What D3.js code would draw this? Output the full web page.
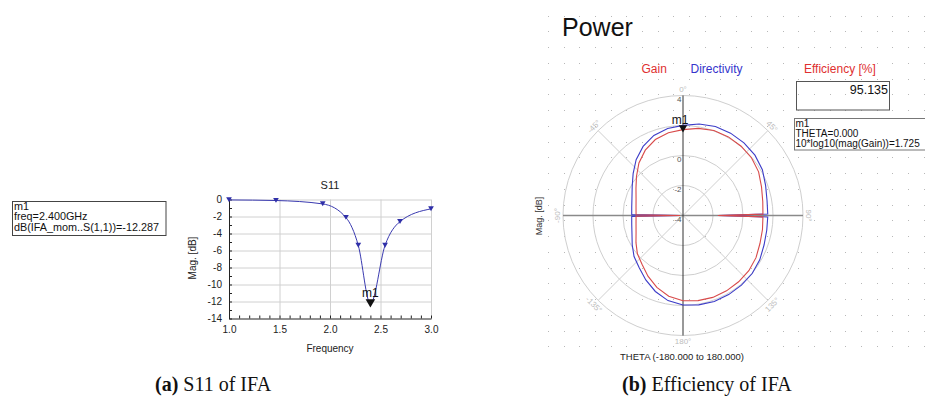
<!DOCTYPE html>
<html>
<head>
<meta charset="utf-8">
<script src="https://cdn.jsdelivr.net/npm/d3@7"></script>
<style>
    body { margin: 0; background: #fff; }
    text { font-family: "Liberation Sans", Arial, sans-serif; }
    .caption { font-family: "Liberation Serif", "Times New Roman", serif; }
</style>
</head>
<body>
<svg id="chart" width="925" height="407"></svg>
<script>

/* (a) S11 sweep, sample points shown as markers */
var S11_FREQ = [1.0, 1.465, 1.928, 2.158, 2.28, 2.4, 2.545, 2.693, 3.0];
var S11_DB = [-0.05, -0.12, -0.52, -2.12, -5.4, -12.287, -5.4, -2.6, -1.1];
var S11_Y_TICKS = [0, -2, -4, -6, -8, -10, -12, -14];
var S11_X_TICKS = [1.0, 1.5, 2.0, 2.5, 3.0];
var S11_MARKER = {freq: 2.4, db: -12.287};
var S11_MARKER_LINES = ["m1", "freq=2.400GHz", "dB(IFA_mom..S(1,1))=-12.287"];

/* (b) far field cut, theta in degrees, values in dB */
var THETA = [-180, -170, -160, -150, -140, -130, -120, -110, -100, -91, -90, -89,
    -80, -70, -60, -50, -40, -30, -20, -10, 0, 10, 20, 30, 40, 50, 60, 70, 80,
    89, 90, 91, 100, 110, 120, 130, 140, 150, 160, 170, 180];
var GAIN_DB = [1.68, 1.47, 1.10, 0.67, 0.25, -0.03, -0.38, -0.67, -0.82, -0.87, -3.80, -0.87,
    -0.82, -0.67, -0.38, 0.05, 0.57, 1.03, 1.39, 1.60, 1.725, 1.90, 2.03, 2.05, 2.03, 1.97, 1.82, 1.57, 1.40,
    1.33, -1.67, 1.33, 1.38, 1.46, 1.62, 1.73, 1.77, 1.80, 1.81, 1.76, 1.68];
var DIRECTIVITY_DB = [1.97, 1.76, 1.39, 0.96, 0.54, 0.26, -0.09, -0.38, -0.53, -0.58, -3.80, -0.58,
    -0.53, -0.38, -0.09, 0.34, 0.86, 1.32, 1.68, 1.89, 2.01, 2.19, 2.32, 2.34, 2.32, 2.26, 2.11, 1.86, 1.69,
    1.65, -1.67, 1.65, 1.67, 1.75, 1.91, 2.02, 2.06, 2.09, 2.10, 2.05, 1.97];
var RING_VALUES = [-2, 0, 2, 4];
var RADIAL_LABELS = [4, 0, -2, -4];   /* "2" sits under the m1 marker */
var ANGLE_LABELS = [0, 45, 90, 135, 180, -135, -90, -45];
var EFFICIENCY = "95.135";
var POLAR_MARKER = {theta: 0, db: 1.725};
var POLAR_MARKER_LINES = ["m1", "THETA=0.000", "10*log10(mag(Gain))=1.725"];

var RED = "#e03030";
var BLUE = "#3535cc";

var svg = d3.select("#chart");

drawS11();
drawPolar();
drawCaptions();

function drawS11(){
    var x = d3.scaleLinear().domain([1, 3]).range([229, 431]);
    var y = d3.scaleLinear().domain([-14, 0]).range([318.5, 199.5]);
    var plotH = 318.5 - 199.5;
    var plotW = 431 - 229;

    /* grid */
    svg.append("g")
        .attr("transform", "translate(0,318.5)")
        .call(d3.axisBottom(x).tickValues(S11_X_TICKS.slice(1)).tickSize(-plotH).tickFormat(""))
        .call(function(g){ g.select(".domain").remove(); })
        .selectAll("line").attr("stroke", "#d0d0d0");
    svg.append("g")
        .attr("transform", "translate(229,0)")
        .call(d3.axisLeft(y).tickValues(S11_Y_TICKS.slice(0, -1)).tickSize(-plotW).tickFormat(""))
        .call(function(g){ g.select(".domain").remove(); })
        .selectAll("line").attr("stroke", "#d0d0d0");

    /* axes with inward minor ticks */
    var left = svg.append("g")
        .attr("transform", "translate(229,0)")
        .call(d3.axisLeft(y).tickValues(d3.range(-14, 1, 1)).tickSize(-3).tickSizeOuter(0)
            .tickFormat(function(d){ return S11_Y_TICKS.indexOf(d) >= 0 ? d : ""; }).tickPadding(7));
    left.select(".domain").attr("stroke", "#222");
    left.selectAll("line").attr("stroke", "#222");
    left.selectAll("text").attr("font-size", 10).attr("fill", "#222")
        .attr("font-family", "Liberation Sans, Arial, sans-serif");

    var bottom = svg.append("g")
        .attr("transform", "translate(0,318.5)")
        .call(d3.axisBottom(x).tickValues(d3.range(10, 31, 1).map(function(v){ return v / 10; }))
            .tickSize(-3).tickSizeOuter(0).tickPadding(7)
            .tickFormat(function(d){ return (Math.round(d * 10) % 5 === 0) ? d3.format(".1f")(d) : ""; }));
    bottom.select(".domain").attr("stroke", "#222");
    bottom.selectAll("line").attr("stroke", "#222");
    bottom.selectAll("text").attr("font-size", 10).attr("fill", "#222")
        .attr("font-family", "Liberation Sans, Arial, sans-serif");

    /* curve */
    var pts = S11_FREQ.map(function(f, i){ return {f: f, v: S11_DB[i]}; });
    var line = d3.line()
        .curve(d3.curveMonotoneX)
        .x(function(d){ return x(d.f); })
        .y(function(d){ return y(d.v); });
    svg.append("path")
        .attr("d", line(pts))
        .attr("fill", "none")
        .attr("stroke", "#3a3ab0")
        .attr("stroke-width", 1);

    var tri = d3.symbol().type(d3.symbolTriangle).size(14);
    svg.selectAll(".s11pt").data(pts).enter()
        .append("path")
        .classed("s11pt", true)
        .attr("d", tri)
        .attr("transform", function(d){ return "translate(" + x(d.f) + "," + (y(d.v) - 1) + ") rotate(180)"; })
        .attr("fill", "#2f2fa8");

    /* marker m1 */
    var mx = x(S11_MARKER.freq), my = y(S11_MARKER.db);
    svg.append("path")
        .attr("d", d3.symbol().type(d3.symbolTriangle).size(40))
        .attr("transform", "translate(" + mx + "," + (my - 2) + ") rotate(180)")
        .attr("fill", "#111");
    svg.append("text")
        .attr("x", mx).attr("y", my - 7)
        .attr("text-anchor", "middle")
        .attr("font-size", 12).attr("fill", "#111")
        .text("m1");

    /* titles */
    svg.append("text").attr("x", 330).attr("y", 189).attr("text-anchor", "middle")
        .attr("font-size", 11).attr("fill", "#222").text("S11");
    svg.append("text").attr("x", 330).attr("y", 352).attr("text-anchor", "middle")
        .attr("font-size", 10).attr("fill", "#222").text("Frequency");
    svg.append("text").attr("transform", "translate(196,258) rotate(-90)")
        .attr("text-anchor", "middle")
        .attr("font-size", 10).attr("fill", "#222").text("Mag. [dB]");

    /* marker readout box */
    svg.append("rect")
        .attr("x", 12.5).attr("y", 201.5).attr("width", 153.5).attr("height", 34)
        .attr("fill", "#fff").attr("stroke", "#444");
    svg.append("g").selectAll("text").data(S11_MARKER_LINES).enter()
        .append("text")
        .attr("x", 14).attr("y", function(d, i){ return 210 + i * 10.3; })
        .attr("font-size", 10.8).attr("fill", "#111")
        .text(function(d){ return d; });
}

function drawPolar(){
    var cx = 683, cy = 215.5, R = 120;
    var r = d3.scaleLinear().domain([-4, 4]).range([0, R]);

    /* dotted page background */
    var dots = [];
    d3.range(548, 925, 15.65).forEach(function(dx){
        d3.range(15.7, 362, 15.75).forEach(function(dy){ dots.push([dx, dy]); });
    });
    svg.append("g").selectAll("rect").data(dots).enter()
        .append("rect")
        .attr("x", function(d){ return Math.round(d[0]); })
        .attr("y", function(d){ return Math.round(d[1]); })
        .attr("width", 1).attr("height", 1)
        .attr("fill", "#b8b8b8");

    svg.append("text").attr("x", 562).attr("y", 36)
        .attr("font-size", 25).attr("fill", "#111").text("Power");

    svg.append("text").attr("x", 641.5).attr("y", 73).attr("font-size", 12).attr("fill", RED).text("Gain");
    svg.append("text").attr("x", 690.5).attr("y", 73).attr("font-size", 12).attr("fill", BLUE).text("Directivity");
    svg.append("text").attr("x", 804).attr("y", 73).attr("font-size", 12).attr("fill", RED).text("Efficiency [%]");

    svg.append("rect")
        .attr("x", 796.5).attr("y", 81.5).attr("width", 93).attr("height", 28.5)
        .attr("fill", "none").attr("stroke", "#555");
    svg.append("text").attr("x", 888).attr("y", 94).attr("text-anchor", "end")
        .attr("font-size", 12.5).attr("fill", "#111").text(EFFICIENCY);

    var g = svg.append("g").attr("transform", "translate(" + cx + "," + cy + ")");

    /* rings and spokes */
    g.selectAll(".ring").data(RING_VALUES).enter()
        .append("circle")
        .attr("r", function(d){ return r(d); })
        .attr("fill", "none").attr("stroke", "#cfcfcf");
    [45, 135, -45, -135].forEach(function(a){
        var t = a * Math.PI / 180;
        g.append("line")
            .attr("x1", 0).attr("y1", 0)
            .attr("x2", R * Math.sin(t)).attr("y2", -R * Math.cos(t))
            .attr("stroke", "#cfcfcf");
    });
    g.append("line").attr("x1", -R).attr("x2", R).attr("y1", 0).attr("y2", 0)
        .attr("stroke", "#8a8a8a").attr("stroke-width", 1.6);
    g.append("line").attr("x1", 0).attr("x2", 0).attr("y1", -R).attr("y2", R)
        .attr("stroke", "#333");

    g.selectAll(".rlab").data(RADIAL_LABELS).enter()
        .append("text")
        .attr("x", -1.5).attr("y", function(d){ return -r(d) + 6; })
        .attr("text-anchor", "end")
        .attr("font-size", 8).attr("fill", "#555")
        .text(function(d){ return d; });

    g.selectAll(".alab").data(ANGLE_LABELS).enter()
        .append("text")
        .attr("transform", function(d){
            var t = d * Math.PI / 180, rr = R + 6;
            var rot = Math.abs(d) > 90 ? (d > 0 ? d - 180 : d + 180) : d;
            if (Math.abs(d) === 180) rot = 0;
            return "translate(" + (rr * Math.sin(t)) + "," + (-rr * Math.cos(t)) + ") rotate(" + rot + ")";
        })
        .attr("text-anchor", "middle")
        .attr("dy", "0.35em")
        .attr("font-size", 8).attr("fill", "#bdbdbd")
        .text(function(d){ return d + "\u00b0"; });

    /* pattern traces */
    var radial = d3.lineRadial()
        .angle(function(d){ return d.t * Math.PI / 180; })
        .radius(function(d){ return r(d.v); });
    var gain = THETA.map(function(t, i){ return {t: t, v: GAIN_DB[i]}; });
    var dir = THETA.map(function(t, i){ return {t: t, v: DIRECTIVITY_DB[i]}; });

    g.append("path").attr("d", radial(dir))
        .attr("fill", "none").attr("stroke", "#3c3cc8").attr("stroke-width", 1.1);
    g.append("path").attr("d", radial(gain))
        .attr("fill", "none").attr("stroke", "#d84a4a").attr("stroke-width", 1.1);

    /* marker m1 */
    var my = -r(POLAR_MARKER.db);
    g.append("path")
        .attr("d", d3.symbol().type(d3.symbolTriangle).size(30))
        .attr("transform", "translate(0," + (my - 2) + ") rotate(180)")
        .attr("fill", "#111");
    g.append("text").attr("x", -3).attr("y", my - 6)
        .attr("text-anchor", "middle")
        .attr("font-size", 12).attr("fill", "#111").text("m1");

    /* axis titles */
    svg.append("text").attr("transform", "translate(541.5,216) rotate(-90)")
        .attr("text-anchor", "middle")
        .attr("font-size", 9).attr("fill", "#333").text("Mag. [dB]");
    svg.append("text").attr("x", 682).attr("y", 360)
        .attr("text-anchor", "middle")
        .attr("font-size", 9.5).attr("fill", "#222").text("THETA (-180.000 to 180.000)");

    /* marker readout box */
    svg.append("rect")
        .attr("x", 794.5).attr("y", 118.5).attr("width", 140).attr("height", 31.5)
        .attr("fill", "#fff").attr("stroke", "#777");
    svg.append("g").selectAll("text").data(POLAR_MARKER_LINES).enter()
        .append("text")
        .attr("x", 795.5).attr("y", function(d, i){ return 127 + i * 9.8; })
        .attr("font-size", 10).attr("fill", "#111")
        .text(function(d){ return d; });
}

function drawCaptions(){
    var a = svg.append("text").classed("caption", true)
        .attr("x", 155).attr("y", 391).attr("font-size", 20).attr("fill", "#111");
    a.append("tspan").attr("font-weight", "bold").text("(a)");
    a.append("tspan").text(" S11 of IFA");

    var b = svg.append("text").classed("caption", true)
        .attr("x", 622).attr("y", 391).attr("font-size", 20).attr("fill", "#111");
    b.append("tspan").attr("font-weight", "bold").text("(b)");
    b.append("tspan").text(" Efficiency of IFA");
}
</script>
</body>
</html>
